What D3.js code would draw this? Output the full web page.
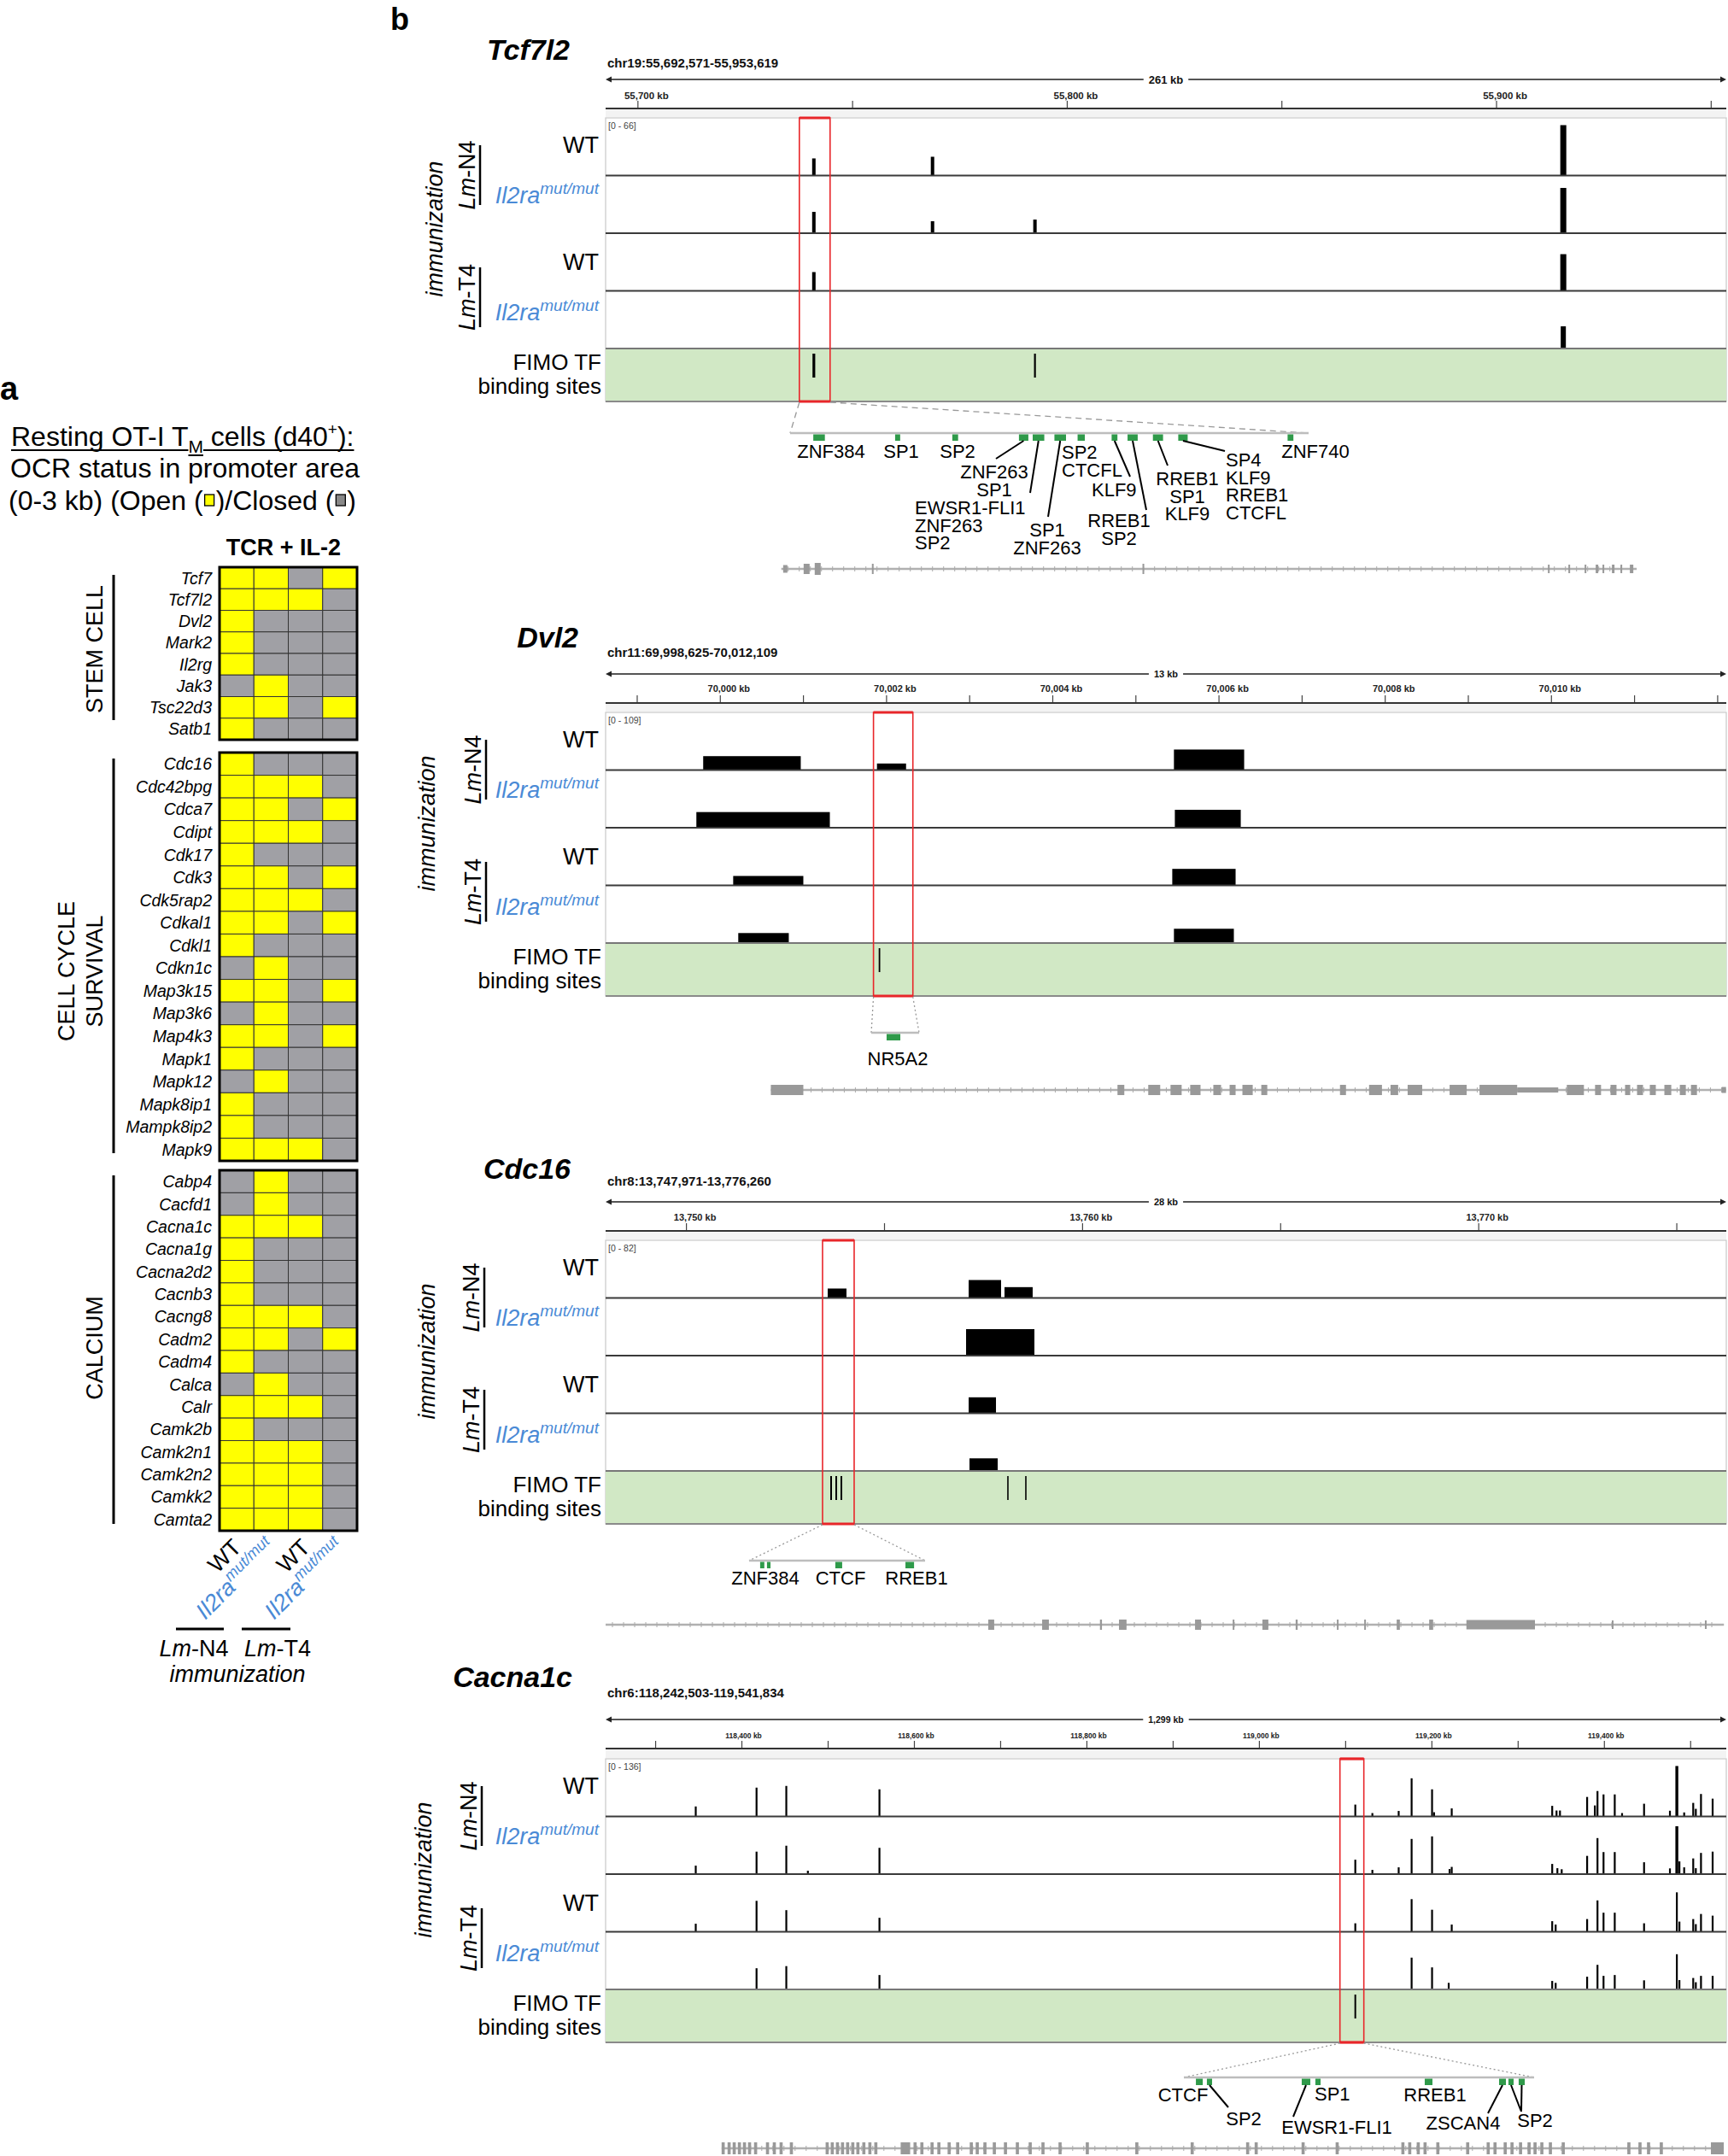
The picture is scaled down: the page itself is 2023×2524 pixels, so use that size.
<!DOCTYPE html>
<html>
<head>
<meta charset="utf-8">
<script src="https://cdn.jsdelivr.net/npm/d3@7/dist/d3.min.js"></script>
<style>
  body { margin: 0; background: #fff; }
  text { font-family: "Liberation Sans", Arial, Helvetica, sans-serif; }
</style>
</head>
<body>
<svg id="fig" width="2023" height="2524"></svg>
<script>
// ================= panel a : promoter OCR status =================
const conditions = ["WT", "Il2ra", "WT", "Il2ra"];
const stemGenes = ["Tcf7","Tcf7l2","Dvl2","Mark2","Il2rg","Jak3","Tsc22d3","Satb1"];
const stemOpen = [[1,1,0,1],[1,1,1,0],[1,0,0,0],[1,0,0,0],[1,0,0,0],[0,1,0,0],[1,1,0,1],[1,0,0,0]];
const cycleGenes = ["Cdc16","Cdc42bpg","Cdca7","Cdipt","Cdk17","Cdk3","Cdk5rap2","Cdkal1","Cdkl1","Cdkn1c",
  "Map3k15","Map3k6","Map4k3","Mapk1","Mapk12","Mapk8ip1","Mampk8ip2","Mapk9"];
const cycleOpen = [[1,0,0,0],[1,1,1,0],[1,1,0,1],[1,1,1,0],[1,0,0,0],[1,1,0,1],[1,1,1,0],[1,1,0,1],[1,0,0,0],
  [0,1,0,0],[1,1,0,1],[0,1,0,0],[1,1,0,1],[1,0,0,0],[0,1,0,0],[1,0,0,0],[1,0,0,0],[1,1,1,0]];
const calciumGenes = ["Cabp4","Cacfd1","Cacna1c","Cacna1g","Cacna2d2","Cacnb3","Cacng8","Cadm2","Cadm4",
  "Calca","Calr","Camk2b","Camk2n1","Camk2n2","Camkk2","Camta2"];
const calciumOpen = [[0,1,0,0],[0,1,0,0],[1,1,1,0],[1,0,0,0],[1,0,0,0],[1,0,0,0],[1,1,1,0],[1,1,0,1],
  [1,0,0,0],[0,1,0,0],[1,1,1,0],[1,0,0,0],[1,1,1,0],[1,1,1,0],[1,1,1,0],[1,1,1,0]];

// ================= panel b : genome browser tracks (positions in kb) =================
// peaks: [start kb, end kb, signal]
const tcfLocus = "chr19:55,692,571-55,953,619", tcfSpan = "261 kb";
const tcfDomain = [55692.571, 55953.619], tcfMax = 66;
const tcfTicks = [55700, 55750, 55800, 55850, 55900, 55950], tcfTickLabels = [55700, 55800, 55900];
const tcfWtN4 = [[55740.68,55741.48,19.6],[55768.32,55769.12,21.5],[55914.95,55916.35,57.7]];
const tcfMutN4 = [[55740.68,55741.48,24.4],[55768.32,55769.12,13.7],[55792.18,55792.98,15.6],[55914.95,55916.35,51.8]];
const tcfWtT4 = [[55740.68,55741.48,21.5],[55914.95,55916.35,42]];
const tcfMutT4 = [[55915.05,55916.25,25.4]];
const tcfFimo = [55741.08, 55792.58];
const tcfBox = [55737.70, 55744.86];
const tcfSites = [[55738.02,55738.18],[55739.15,55739.22],[55739.94,55740.02],[55740.86,55740.99],[55741.05,55741.21],
  [55741.35,55741.51],[55741.67,55741.77],[55742.14,55742.22],[55742.36,55742.50],[55742.71,55742.85],[55743.06,55743.19],[55744.57,55744.65]];
const tcfSiteNames = [["ZNF384"],["SP1"],["SP2"],["ZNF263","SP1"],["EWSR1-FLI1","ZNF263","SP2"],["SP1","ZNF263"],
  ["SP2","CTCFL"],["KLF9"],["RREB1","SP2"],["RREB1","SP1","KLF9"],["SP4","KLF9","RREB1","CTCFL"],["ZNF740"]];
const tcfGene = [55733.5, 55932.75];
const tcfExons = [[55733.93,55734.92,9],[55738.70,55740.09,12],[55741.28,55742.67,14],[55754.60,55755.00,12],[55817.63,55818.03,12],
  [55912.07,55912.47,10],[55916.84,55917.24,10],[55920.62,55921.02,10],[55923.20,55923.80,10],[55924.79,55925.19,10],
  [55926.98,55927.58,10],[55928.97,55929.37,10],[55931.16,55931.96,10]];

const dvlLocus = "chr11:69,998,625-70,012,109", dvlSpan = "13 kb";
const dvlDomain = [69998.625, 70012.109], dvlMax = 109;
const dvlTicks = [69999,70000,70001,70002,70003,70004,70005,70006,70007,70008,70009,70010,70011,70012];
const dvlTickLabels = [70000, 70002, 70004, 70006, 70008, 70010];
const dvlWtN4 = [[69999.799,70000.973,26.3],[70001.890,70002.240,12.4],[70005.463,70006.308,38.8]];
const dvlMutN4 = [[69999.717,70001.323,29.6],[70005.474,70006.267,33.9]];
const dvlWtT4 = [[70000.160,70001.004,17.8],[70005.443,70006.205,31.2]];
const dvlMutT4 = [[70000.221,70000.829,18.9],[70005.463,70006.184,27]];
const dvlFimo = [70001.92];
const dvlBox = [70001.848, 70002.322];
const dvlSites = [[70002.00, 70002.136]];
const dvlSiteNames = [["NR5A2"]];
const dvlGene = [70000.613, 70012.106];
const dvlExons = [[70000.613,70001.004,12],[70004.784,70004.866,12],[70005.154,70005.298,12],[70005.422,70005.556,12],
  [70005.659,70005.783,12],[70005.937,70006.030,12],[70006.133,70006.205,12],[70006.287,70006.411,12],[70006.514,70006.586,12],
  [70007.461,70007.533,12],[70007.811,70007.966,12],[70008.069,70008.161,12],[70008.275,70008.450,12],[70008.780,70008.985,12],
  [70009.140,70009.593,12],[70009.593,70010.087,6],[70010.190,70010.396,12],[70010.530,70010.602,12],[70010.716,70010.788,12],
  [70010.891,70010.953,12],[70011.035,70011.107,12],[70011.189,70011.261,12],[70011.364,70011.447,12],[70011.550,70011.622,12],
  [70011.684,70011.756,12],[70012.054,70012.106,7]];

const cdcLocus = "chr8:13,747,971-13,776,260", cdcSpan = "28 kb";
const cdcDomain = [13747.971, 13776.260], cdcMax = 82;
const cdcTicks = [13750, 13755, 13760, 13765, 13770, 13775], cdcTickLabels = [13750, 13760, 13770];
const cdcWtN4 = [[13753.577,13754.051,13.4],[13757.135,13757.954,25.5],[13758.040,13758.751,15.4]];
const cdcMutN4 = [[13757.070,13758.795,37.7]];
const cdcWtT4 = [[13757.135,13757.825,22.7]];
const cdcMutT4 = [[13757.156,13757.868,17.9]];
const cdcFimo = [13753.663, 13753.792, 13753.922, 13758.126, 13758.579];
const cdcBox = [13753.447, 13754.245];
const cdcSites = [[13753.497,13753.516],[13753.528,13753.544],[13753.838,13753.869],[13754.156,13754.195]];
const cdcSiteNames = [["ZNF384"], null, ["CTCF"], ["RREB1"]];
const cdcGene = [13747.971, 13776.2];
const cdcExons = [[13757.63,13757.78,12],[13758.99,13759.16,12],[13760.45,13760.50,12],[13760.93,13761.12,12],
  [13762.85,13763.00,12],[13763.80,13763.84,12],[13764.55,13764.70,12],[13765.39,13765.44,12],[13766.43,13766.47,12],
  [13767.12,13767.16,12],[13767.94,13768.02,12],[13768.76,13768.86,12],[13769.70,13771.43,11],[13773.37,13773.41,10],
  [13775.72,13775.76,10]];

// Cacna1c peaks are narrow: [centre kb, signal]
const cacLocus = "chr6:118,242,503-119,541,834", cacSpan = "1,299 kb";
const cacDomain = [118242.503, 119541.834], cacMax = 136;
const cacTicks = [118300,118400,118500,118600,118700,118800,118900,119000,119100,119200,119300,119400,119500];
const cacTickLabels = [118400, 118600, 118800, 119000, 119200, 119400];
const cacWtN4 = [[118347,23.6],[118417.5,68],[118452,72],[118560,64],[119111.7,28],[119131.5,8],[119162,13],[119177,90],
  [119200.7,64],[119203,10],[119223.5,19],[119340,25],[119345,14],[119349,14],[119380.5,46],[119389.5,26],[119392.5,60],
  [119399.5,52],[119412.5,52],[119421,8],[119446.5,30],[119476.5,13.5],[119484.5,119],[119493,9.5],[119503.5,32],
  [119506.5,18],[119512.5,53],[119526,42]];
const cacMutN4 = [[118347,20],[118417.5,53],[118452,67],[118477,8],[118560,62],[119111.7,34],[119131.5,10],[119162,16],
  [119177,83],[119200.7,89],[119221,12],[119223.5,17],[119340,24],[119346,14],[119351,11.5],[119380.5,43],[119392.5,85],
  [119399.5,52],[119412.5,52],[119446.5,28],[119476.5,13.5],[119484.5,113],[119487.5,30],[119493,16],[119503.5,37],
  [119506.5,14],[119512.5,50],[119526,53]];
const cacWtT4 = [[118347,19],[118417.5,73],[118452,51],[118560,33],[119111.7,20],[119177,77],[119200.7,52],[119223.5,17],
  [119340,25],[119344,17],[119380.5,30],[119392.5,74],[119399.5,45],[119412.5,45],[119446.5,20],[119484.5,93],
  [119487.5,24],[119503.5,30],[119506.5,18],[119512.5,42],[119526,38]];
const cacMutT4 = [[118417.5,50],[118452,55],[118560,34],[119177,75],[119200.7,52],[119220,15.5],[119340,20],[119344,15.5],
  [119380.5,30],[119392.5,58],[119399.5,32],[119412.5,34],[119446.5,21.5],[119484.5,83],[119487.5,22],[119503.5,27],
  [119506.5,17],[119512.5,32],[119526,32]];
const cacFimo = [119111.7];
const cacBox = [119093.9, 119121.6];
const cacSites = [[119094.85,119095.39],[119095.72,119096.13],[119103.22,119103.90],[119104.30,119104.71],
  [119112.95,119113.56],[119118.83,119119.37],[119119.57,119119.98],[119120.38,119120.86]];
const cacSiteNames = [["CTCF"],["SP2"],["EWSR1-FLI1"],["SP1"],["RREB1"],["ZSCAN4"],["SP2"],null];
const cacGene = [118377.0, 119538.9];
const cacExonStarts = [118377.0,118383.9,118389.8,118395.8,118401.7,118407.6,118414.6,118428.4,118436.3,118444.2,118456.1,
  118497.6,118503.5,118509.5,118515.4,118521.3,118527.3,118533.2,118540.1,118547.1,118554.0,118599.5,118607.4,118619.2,
  118627.1,118639.0,118648.9,118664.7,118671.6,118680.5,118691.4,118704.3,118718.1,118733.0,118747.8,118767.6,118799.2,
  118856.6,118920.8,118985.1,118995.0,119049.4,119088.9,119165.1,119173.0,119182.9,119190.8,119205.6,119240.2,119264.0,
  119271.9,119283.7,119291.6,119301.5,119311.4,119318.3,119326.2,119336.1,119351.0,119427.1,119440.0,119449.9,119464.7];
const cacExons = cacExonStarts.map(s => [s, s + 3.6, 14]).concat([[118584.6,118595.6,14],[119524.0,119538.9,14]]);

// ================= drawing =================
const svg = d3.select("#fig");
const NARROW = '"Liberation Sans Narrow", "DejaVu Sans Condensed", "Liberation Sans", sans-serif';
const YELLOW = "#ffff00", GREY = "#a0a0a5", BLUE = "#4a8ad6";

// text pieces laid out one after another
function runText(g, x, y, parts) {
  let cx = x;
  const spans = [];
  parts.forEach(p => {
    if (p.box) {
      g.append("rect").attr("x", cx + 2).attr("y", y - 18).attr("width", 11).attr("height", 13)
        .attr("fill", p.box).attr("stroke", "#000").attr("stroke-width", 1.3);
      cx += 15;
      return;
    }
    const t = g.append("text").attr("x", cx).attr("y", y + (p.dy || 0))
      .attr("font-size", p.size).style("white-space", "pre").text(p.t);
    const w = t.node().getComputedTextLength();
    spans.push([cx, cx + w]);
    cx += w;
  });
  return { end: cx, spans };
}

// ---- panel a ----
const ga = svg.append("g");
ga.append("text").attr("x", 0).attr("y", 468).attr("font-size", 38).attr("font-weight", "bold").text("a");
const l1 = runText(ga, 13, 522, [
  { t: "Resting OT-I T", size: 32 }, { t: "M", size: 21, dy: 8 }, { t: "\u00a0cells (d40", size: 32 },
  { t: "+", size: 19, dy: -13 }, { t: "):", size: 32 }]);
ga.append("line").attr("x1", 13).attr("x2", l1.spans[0][1]).attr("y1", 527).attr("y2", 527).attr("stroke", "#000").attr("stroke-width", 2);
ga.append("line").attr("x1", l1.spans[0][1]).attr("x2", l1.spans[1][1]).attr("y1", 533).attr("y2", 533).attr("stroke", "#000").attr("stroke-width", 2);
ga.append("line").attr("x1", l1.spans[1][1]).attr("x2", l1.end).attr("y1", 527).attr("y2", 527).attr("stroke", "#000").attr("stroke-width", 2);
runText(ga, 12, 559, [{ t: "OCR status in promoter area", size: 32 }]);
runText(ga, 10, 597, [{ t: "(0-3 kb) (Open (", size: 32 }, { box: YELLOW }, { t: ")/Closed (", size: 32 }, { box: "#888" }, { t: ")", size: 32 }]);
ga.append("text").attr("x", 332).attr("y", 650).attr("text-anchor", "middle").attr("font-size", 27)
  .attr("font-weight", "bold").text("TCR + IL-2");

const colX = d3.scaleBand().domain(d3.range(conditions.length)).range([257, 418]);
const blocks = [
  { genes: stemGenes, open: stemOpen, y0: 664, y1: 866, line: [673, 843], labels: [["STEM CELL", 120]], ly: 760 },
  { genes: cycleGenes, open: cycleOpen, y0: 881, y1: 1359, line: [888, 1350], labels: [["CELL CYCLE", 87], ["SURVIVAL", 120]], ly: 1137 },
  { genes: calciumGenes, open: calciumOpen, y0: 1370, y1: 1792, line: [1376, 1784], labels: [["CALCIUM", 120]], ly: 1578 }
];
blocks.forEach(b => {
  const rowY = d3.scaleBand().domain(b.genes).range([b.y0, b.y1]);
  b.genes.forEach((gname, i) => {
    b.open[i].forEach((v, j) => {
      ga.append("rect").attr("x", colX(j)).attr("y", rowY(gname)).attr("width", colX.bandwidth())
        .attr("height", rowY.bandwidth()).attr("fill", v ? YELLOW : GREY)
        .attr("stroke", "#333").attr("stroke-width", 1);
    });
    ga.append("text").attr("x", 248).attr("y", rowY(gname) + rowY.bandwidth() / 2 + 7)
      .attr("text-anchor", "end").attr("font-size", 19.5).attr("font-style", "italic").text(gname);
  });
  ga.append("rect").attr("x", 257).attr("y", b.y0).attr("width", 161).attr("height", b.y1 - b.y0)
    .attr("fill", "none").attr("stroke", "#000").attr("stroke-width", 3);
  ga.append("line").attr("x1", 133).attr("x2", 133).attr("y1", b.line[0]).attr("y2", b.line[1])
    .attr("stroke", "#000").attr("stroke-width", 3);
  b.labels.forEach(([txt, bx]) => {
    ga.append("text").attr("transform", `translate(${bx},${b.ly}) rotate(-90)`).attr("text-anchor", "middle")
      .attr("font-size", 27).text(txt);
  });
});

function il2ra(sel, size) {
  sel.append("tspan").attr("font-style", "italic").text("Il2ra");
  sel.append("tspan").attr("font-style", "italic").attr("font-size", size * 0.68).attr("dy", -size * 0.4).text("mut/mut");
}
conditions.forEach((c, j) => {
  const cx = colX(j) + colX.bandwidth() / 2 + 7;
  const t = ga.append("text").attr("transform", `translate(${cx},1813) rotate(-45)`).attr("text-anchor", "end")
    .attr("font-size", 27).attr("fill", c === "WT" ? "#000" : BLUE);
  if (c === "WT") t.text("WT"); else il2ra(t, 27);
});
[[206, 262], [283, 340]].forEach(([a, b]) =>
  ga.append("line").attr("x1", a).attr("x2", b).attr("y1", 1907).attr("y2", 1907).attr("stroke", "#000").attr("stroke-width", 3));
[["N4", 227], ["T4", 325]].forEach(([s, cx]) => {
  const t = ga.append("text").attr("x", cx).attr("y", 1939).attr("text-anchor", "middle").attr("font-size", 27);
  t.append("tspan").attr("font-style", "italic").text("Lm");
  t.append("tspan").text("-" + s);
});
ga.append("text").attr("x", 278).attr("y", 1969).attr("text-anchor", "middle").attr("font-size", 27)
  .attr("font-style", "italic").text("immunization");

// ---- panel b ----
svg.append("text").attr("x", 457).attr("y", 35).attr("font-size", 36).attr("font-weight", "bold").text("b");

const TRACK_H = 67.5, FIMO_H = 62, X0 = 709, X1 = 2021;
const sections = [
  { name: "Tcf7l2", locus: tcfLocus, span: tcfSpan, domain: tcfDomain, max: tcfMax, ticks: tcfTicks, tickLabels: tcfTickLabels,
    tracks: [tcfWtN4, tcfMutN4, tcfWtT4, tcfMutT4], fimo: tcfFimo, fimoW: [3.2, 2.2], box: tcfBox, sites: tcfSites,
    siteNames: tcfSiteNames, gene: tcfGene, exons: tcfExons,
    L: { titleX: 667, titleY: 70, chrY: 79, rulerY: 93, tickY: 116, axisY: 127, top: 138, spanSize: 13, tickSize: 11.5,
      tickDx: 10, lineX: 562, immX: 518, stripY: 507, stripX: [925, 1532], geneY: 666, dash: "7,5",
      labelPos: [[973,536,"middle"],[1055,536,"middle"],[1121,536,"middle"],[1164,560,"middle",[1166,537]],
        [1071,602,"start",[1206,577]],[1226,628,"middle",[1227,605]],[1243,537,"start"],[1278,581,"start",[1323,558]],
        [1310,617,"middle",[1342,597]],[1390,568,"middle",[1367,545]],[1435,546,"start",[1434,528]],[1540,536,"middle"]] } },
  { name: "Dvl2", locus: dvlLocus, span: dvlSpan, domain: dvlDomain, max: dvlMax, ticks: dvlTicks, tickLabels: dvlTickLabels,
    tracks: [dvlWtN4, dvlMutN4, dvlWtT4, dvlMutT4], fimo: dvlFimo, fimoW: [1.8], box: dvlBox, sites: dvlSites,
    siteNames: dvlSiteNames, gene: dvlGene, exons: dvlExons,
    L: { titleX: 677, titleY: 758, chrY: 769, rulerY: 789, tickY: 810, axisY: 823, top: 834, spanSize: 11, tickSize: 11,
      tickDx: 10, lineX: 569, immX: 509, stripY: 1209, stripX: [1020, 1076], geneY: 1276, dash: "2,3",
      labelPos: [[1051,1247,"middle"]] } },
  { name: "Cdc16", locus: cdcLocus, span: cdcSpan, domain: cdcDomain, max: cdcMax, ticks: cdcTicks, tickLabels: cdcTickLabels,
    tracks: [cdcWtN4, cdcMutN4, cdcWtT4, cdcMutT4], fimo: cdcFimo, fimoW: [2, 2, 2, 1.6, 1.6], box: cdcBox, sites: cdcSites,
    siteNames: cdcSiteNames, gene: cdcGene, exons: cdcExons,
    L: { titleX: 668, titleY: 1380, chrY: 1388, rulerY: 1407, tickY: 1429, axisY: 1441, top: 1452, spanSize: 11, tickSize: 11,
      tickDx: 10, lineX: 567, immX: 509, stripY: 1827, stripX: [877, 1083], geneY: 1902, dash: "2,3",
      labelPos: [[896,1855,"middle"], null, [984,1855,"middle"], [1073,1855,"middle"]] } },
  { name: "Cacna1c", locus: cacLocus, span: cacSpan, domain: cacDomain, max: cacMax, ticks: cacTicks, tickLabels: cacTickLabels,
    tracks: [cacWtN4, cacMutN4, cacWtT4, cacMutT4], fimo: cacFimo, fimoW: [2], box: cacBox, sites: cacSites,
    siteNames: cacSiteNames, gene: cacGene, exons: cacExons,
    L: { titleX: 670, titleY: 1975, chrY: 1987, rulerY: 2013, tickY: 2035, axisY: 2047, top: 2059, spanSize: 10.5, tickSize: 8.5,
      tickDx: 2, lineX: 564, immX: 505, stripY: 2432, stripX: [1386, 1796], geneY: 2515, dash: "2,3",
      labelPos: [[1385,2460,"middle"],[1456,2488,"middle",[1438,2467]],[1565,2498,"middle",[1514,2478]],[1539,2459,"start"],
        [1680,2460,"middle"],[1713,2493,"middle",[1742,2474]],[1797,2490,"middle",[1781,2472]],[null,null,null,[1781,2472]]] } }
];

function drawSection(s) {
  const L = s.L, g = svg.append("g");
  const x = d3.scaleLinear().domain(s.domain).range([X0, X1]);
  const y = d3.scaleLinear().domain([0, s.max]).range([0, TRACK_H]);
  const T = L.top, fimoTop = T + 4 * TRACK_H, bottom = fimoTop + FIMO_H;

  g.append("text").attr("x", L.titleX).attr("y", L.titleY).attr("text-anchor", "end").attr("font-size", 34)
    .attr("font-weight", "bold").attr("font-style", "italic").text(s.name);
  g.append("text").attr("x", X0 + 2).attr("y", L.chrY).attr("font-family", NARROW).attr("font-weight", "bold")
    .attr("font-size", 15).attr("fill", "#111").text(s.locus);

  // ruler with span label
  const span = g.append("text").attr("x", (X0 + X1) / 2).attr("y", L.rulerY + L.spanSize * 0.36)
    .attr("text-anchor", "middle").attr("font-family", NARROW).attr("font-weight", "bold")
    .attr("font-size", L.spanSize).attr("fill", "#111").text(s.span);
  const sw = span.node().getComputedTextLength() / 2 + 6;
  g.insert("line", "text").attr("x1", X0 + 4).attr("x2", (X0 + X1) / 2 - sw).attr("y1", L.rulerY).attr("y2", L.rulerY)
    .attr("stroke", "#555").attr("stroke-width", 2);
  g.insert("line", "text").attr("x1", (X0 + X1) / 2 + sw).attr("x2", X1 - 4).attr("y1", L.rulerY).attr("y2", L.rulerY)
    .attr("stroke", "#555").attr("stroke-width", 2);
  g.append("path").attr("d", `M${X0},${L.rulerY} l7,-3.5 v7 z M${X1},${L.rulerY} l-7,-3.5 v7 z`).attr("fill", "#222");

  // coordinate axis
  const axis = d3.axisTop(x).tickValues(s.ticks).tickSize(9).tickPadding(L.axisY - L.tickY - 9)
    .tickFormat(d => s.tickLabels.includes(d) ? d3.format(",")(d) + " kb" : "");
  const ag = g.append("g").attr("transform", `translate(0,${L.axisY})`).call(axis);
  ag.select(".domain").remove();
  ag.selectAll(".tick line").attr("stroke", "#444").attr("stroke-width", 1.2);
  ag.selectAll(".tick text").attr("font-family", NARROW).attr("font-weight", "bold")
    .attr("font-size", L.tickSize).attr("fill", "#222").attr("dx", L.tickDx);
  g.append("rect").attr("x", X0).attr("y", L.axisY + 1).attr("width", X1 - X0).attr("height", T - L.axisY - 2).attr("fill", "#f3f3f3");
  g.append("line").attr("x1", X0).attr("x2", X1).attr("y1", L.axisY).attr("y2", L.axisY).attr("stroke", "#333").attr("stroke-width", 2.2);

  // data panel
  g.append("rect").attr("x", X0).attr("y", T).attr("width", X1 - X0).attr("height", bottom - T)
    .attr("fill", "#fff").attr("stroke", "#c8c8c8").attr("stroke-width", 1.2);
  g.append("rect").attr("x", X0).attr("y", fimoTop).attr("width", X1 - X0).attr("height", FIMO_H).attr("fill", "#d1e8c5");
  g.append("text").attr("x", X0 + 3).attr("y", T + 13).attr("font-family", NARROW).attr("font-size", 10.5)
    .attr("fill", "#444").text(`[0 - ${s.max}]`);

  s.tracks.forEach((peaks, i) => {
    const base = T + (i + 1) * TRACK_H;
    peaks.forEach(p => {
      let x0, w, v;
      if (p.length === 3) { x0 = x(p[0]); w = Math.max(x(p[1]) - x(p[0]), 2); v = p[2]; }
      else { w = p[1] > 100 ? 3.4 : 2.2; x0 = x(p[0]) - w / 2; v = p[1]; }
      g.append("rect").attr("x", x0).attr("y", base - y(v)).attr("width", w).attr("height", y(v)).attr("fill", "#000");
    });
    g.append("line").attr("x1", X0).attr("x2", X1).attr("y1", base).attr("y2", base)
      .attr("stroke", i < 3 ? "#3a3a3a" : "#777").attr("stroke-width", 2);
  });
  g.append("line").attr("x1", X0).attr("x2", X1).attr("y1", bottom).attr("y2", bottom).attr("stroke", "#8a8a8a").attr("stroke-width", 2);
  s.fimo.forEach((f, i) => {
    g.append("line").attr("x1", x(f)).attr("x2", x(f)).attr("y1", fimoTop + 6).attr("y2", fimoTop + 34)
      .attr("stroke", "#000").attr("stroke-width", s.fimoW[i] || 2);
  });

  // track labels
  const lx = 701;
  [[T + 41, "WT"], [T + 100, "mut"], [T + 178, "WT"], [T + 237, "mut"]].forEach(([ty, k]) => {
    const t = g.append("text").attr("x", lx).attr("y", ty).attr("text-anchor", "end").attr("font-size", 27)
      .attr("fill", k === "WT" ? "#000" : BLUE);
    if (k === "WT") t.text("WT"); else il2ra(t, 28);
  });
  g.append("text").attr("x", 704).attr("y", T + 295).attr("text-anchor", "end").attr("font-size", 26).text("FIMO TF");
  g.append("text").attr("x", 704).attr("y", T + 323).attr("text-anchor", "end").attr("font-size", 26).text("binding sites");
  [[T + 32, T + 102, "N4"], [T + 175, T + 245, "T4"]].forEach(([a, b, k]) => {
    g.append("line").attr("x1", L.lineX).attr("x2", L.lineX).attr("y1", a).attr("y2", b).attr("stroke", "#000").attr("stroke-width", 2.5);
    const t = g.append("text").attr("transform", `translate(${L.lineX - 6},${(a + b) / 2}) rotate(-90)`)
      .attr("text-anchor", "middle").attr("font-size", 27);
    t.append("tspan").attr("font-style", "italic").text("Lm");
    t.append("tspan").text("-" + k);
  });
  g.append("text").attr("transform", `translate(${L.immX},${T + 130}) rotate(-90)`).attr("text-anchor", "middle")
    .attr("font-size", 27).attr("font-style", "italic").text("immunization");

  // highlighted window and zoomed-in binding sites
  const bx0 = x(s.box[0]), bx1 = x(s.box[1]);
  g.append("rect").attr("x", bx0).attr("y", T).attr("width", bx1 - bx0).attr("height", bottom - T)
    .attr("fill", "none").attr("stroke", "#e8262a").attr("stroke-width", 1.6);
  [T, bottom].forEach(yy => g.append("line").attr("x1", bx0).attr("x2", bx1).attr("y1", yy).attr("y2", yy)
    .attr("stroke", "#e8262a").attr("stroke-width", 3.2));
  const xs = d3.scaleLinear().domain(s.box).range(L.stripX);
  g.append("line").attr("x1", bx0).attr("y1", bottom + 1).attr("x2", L.stripX[0]).attr("y2", L.stripY)
    .attr("stroke", "#999").attr("stroke-width", 1.3).attr("stroke-dasharray", L.dash);
  g.append("line").attr("x1", bx1).attr("y1", bottom + 1).attr("x2", L.stripX[1]).attr("y2", L.stripY)
    .attr("stroke", "#999").attr("stroke-width", 1.3).attr("stroke-dasharray", L.dash);
  g.append("line").attr("x1", L.stripX[0]).attr("x2", L.stripX[1]).attr("y1", L.stripY).attr("y2", L.stripY)
    .attr("stroke", "#bdbdbd").attr("stroke-width", 2.5);
  s.sites.forEach((m, i) => {
    const mx = xs(m[0]), mw = Math.max(xs(m[1]) - xs(m[0]), 4);
    g.append("rect").attr("x", mx).attr("y", L.stripY + 1.5).attr("width", mw).attr("height", 7.5).attr("fill", "#2f9a4a");
    const pos = L.labelPos[i];
    if (!pos) return;
    if (pos[3]) {
      g.append("line").attr("x1", mx + mw / 2).attr("y1", L.stripY + 9).attr("x2", pos[3][0]).attr("y2", pos[3][1])
        .attr("stroke", "#000").attr("stroke-width", 2);
    }
    if (pos[0] == null || !s.siteNames[i]) return;
    s.siteNames[i].forEach((nm, k) => {
      g.append("text").attr("x", pos[0]).attr("y", pos[1] + k * 20.5).attr("text-anchor", pos[2])
        .attr("font-size", 22).text(nm);
    });
  });

  // gene model
  const gy = L.geneY, gx0 = x(s.gene[0]), gx1 = x(s.gene[1]);
  g.append("line").attr("x1", gx0).attr("x2", gx1).attr("y1", gy).attr("y2", gy).attr("stroke", "#b0b0b0").attr("stroke-width", 2.4);
  d3.range(gx0 + 8, gx1 - 4, 13).forEach(cx =>
    g.append("line").attr("x1", cx).attr("x2", cx).attr("y1", gy - 3).attr("y2", gy + 3).attr("stroke", "#aaa").attr("stroke-width", 1));
  s.exons.forEach(e => {
    g.append("rect").attr("x", x(e[0])).attr("y", gy - e[2] / 2).attr("width", Math.max(x(e[1]) - x(e[0]), 2))
      .attr("height", e[2]).attr("fill", "#999");
  });
}
sections.forEach(drawSection);
</script>
</body>
</html>
